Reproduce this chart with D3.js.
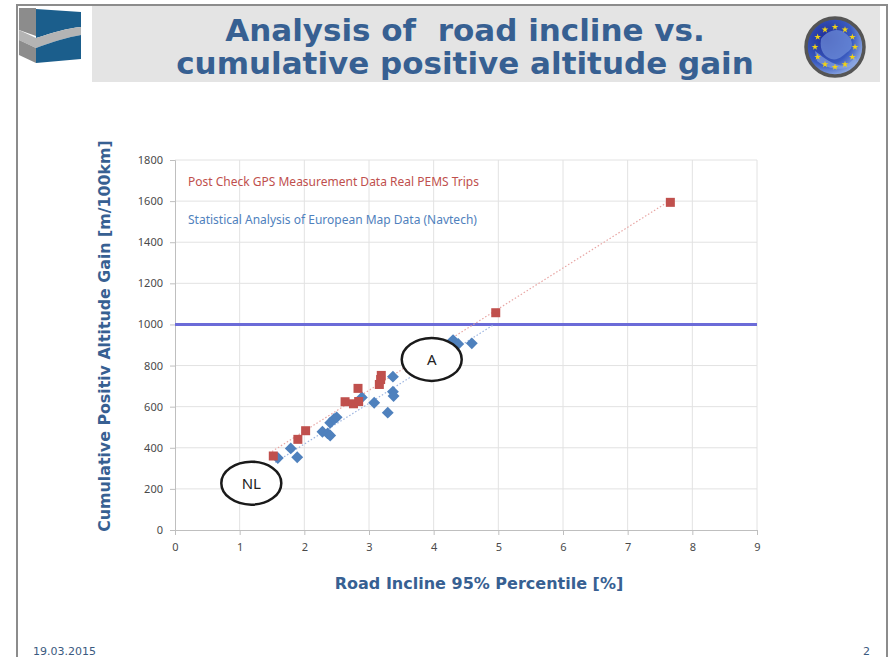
<!DOCTYPE html>
<html>
<head>
<meta charset="utf-8">
<script src="https://cdn.jsdelivr.net/npm/d3@7"></script>
<style>
  body { margin: 0; background: #fff; }
  svg { display: block; }
</style>
</head>
<body>
<div id="chart"></div>
<script>
const width = 890;
const height = 657;

// PEMS trips (red squares)
const pemsX = [1.52, 1.90, 2.02, 2.63, 2.76, 2.84, 2.83, 3.16, 3.18, 3.19, 4.96, 7.66];
const pemsY = [360, 441, 483, 624, 614, 625, 689, 708, 732, 752, 1057, 1594];

// Navtech map data (blue diamonds)
const navX = [1.59, 1.79, 1.89, 2.28, 2.36, 2.40, 2.40, 2.46, 2.50, 2.89, 3.08, 3.29, 3.37, 3.37, 3.38, 4.30, 4.38, 4.59];
const navY = [350, 397, 354, 478, 470, 460, 522, 540, 548, 645, 619, 571, 746, 673, 652, 924, 905, 908];

// trendline spans (x range)
const pemsTrendRange = [1.50, 7.66];
const navTrendRange = [1.55, 4.92];

const limitValue = 1000;

const xTicks = [0, 1, 2, 3, 4, 5, 6, 7, 8, 9];
const yTicks = [0, 200, 400, 600, 800, 1000, 1200, 1400, 1600, 1800];

const legendLabels = [
    "Post Check GPS Measurement Data Real PEMS Trips",
    "Statistical Analysis of European Map Data (Navtech)"
];

const annotationLabels = ["A", "NL"];
const annotationX = [3.97, 1.18];
const annotationY = [830, 228];

const titleLines = ["Analysis of  road incline vs.", "cumulative positive altitude gain"];
const xTitle = "Road Incline 95% Percentile [%]";
const yTitle = "Cumulative Positiv Altitude Gain [m/100km]";
const footerDate = "19.03.2015";
const pageNo = "2";

const red = "#C0504D";
const blue = "#4F81BD";
const titleBlue = "#376092";

const svg = d3.select("#chart").append("svg")
    .attr("width", width)
    .attr("height", height);

// slide frame + banner
svg.append("rect")
    .attr("x", 92).attr("y", 6)
    .attr("width", 788).attr("height", 76)
    .attr("fill", "#E4E4E4");

svg.append("path")
    .attr("d", "M17,657 L17,5 L887,5 L887,657")
    .attr("fill", "none")
    .attr("stroke", "#8C8C8C")
    .attr("stroke-width", 2);

// left logo (approximate)
const logo = svg.append("g");
logo.append("path").attr("d", "M19,8 L36,8 L36,36 L19,30 Z").attr("fill", "#8C8C8C");
logo.append("path").attr("d", "M36,9 L81,12 L81,27 C68,28 52,33 36,38 Z").attr("fill", "#1B5E8C");
logo.append("path").attr("d", "M19,30 L36,38 C52,33 68,28 81,27 L81,35 C68,37 52,42 36,48 L19,40 Z").attr("fill", "#B4B4B4");
logo.append("path").attr("d", "M19,40 L36,48 L36,63 L19,55 Z").attr("fill", "#8C8C8C");
logo.append("path").attr("d", "M36,48 C52,42 68,37 81,35 L81,59 L36,63 Z").attr("fill", "#1B5E8C");

// EU logo (approximate)
const defs = svg.append("defs");
const grad = defs.append("radialGradient").attr("id", "eugrad")
    .attr("cx", "35%").attr("cy", "35%").attr("r", "75%");
grad.append("stop").attr("offset", "0%").attr("stop-color", "#1E2C96");
grad.append("stop").attr("offset", "60%").attr("stop-color", "#3A5BC0");
grad.append("stop").attr("offset", "100%").attr("stop-color", "#A9C2EC");

const eu = svg.append("g").attr("transform", "translate(835,47)");
eu.append("circle").attr("r", 29).attr("fill", "url(#eugrad)")
    .attr("stroke", "#555").attr("stroke-width", 3.5);
eu.append("path")
    .attr("d", "M-14,-8 C-8,-16 2,-20 10,-14 C16,-10 20,-2 14,4 C8,8 4,14 -4,12 C-10,10 -16,4 -14,-8 Z")
    .attr("fill", "#7090DA").attr("opacity", 0.7);
eu.append("path")
    .attr("d", "M-20,4 C-14,8 -6,16 4,18 C10,20 16,16 20,10 L22,16 C12,24 -6,24 -18,14 Z")
    .attr("fill", "#8FAAE4").attr("opacity", 0.6);
const starPath = d3.symbol().type(d3.symbolStar).size(14);
d3.range(12).forEach(i => {
    const a = i * Math.PI / 6;
    eu.append("path")
        .attr("d", starPath())
        .attr("transform", `translate(${20 * Math.sin(a)},${-20 * Math.cos(a)})`)
        .attr("fill", "#F2D313");
});

// title (one text, two lines)
svg.append("text")
    .attr("text-anchor", "middle")
    .attr("font-family", "DejaVu Sans")
    .attr("font-weight", "bold")
    .attr("font-size", 31)
    .attr("fill", titleBlue)
    .style("white-space", "pre")
    .selectAll("tspan")
    .data(titleLines)
    .join("tspan")
        .attr("x", 465)
        .attr("y", (d, i) => 41 + i * 33)
        .text(d => d);

// chart
const x = d3.scaleLinear().domain([0, 9]).range([175, 757]);
const y = d3.scaleLinear().domain([0, 1800]).range([530, 160]);

const grid = svg.append("g")
    .attr("stroke", "#E2E2E2")
    .attr("stroke-width", 1);

grid.selectAll("line.v")
    .data(xTicks.slice(1))
    .join("line")
        .attr("class", "v")
        .attr("x1", d => x(d)).attr("x2", d => x(d))
        .attr("y1", y(1800)).attr("y2", y(0));

grid.selectAll("line.h")
    .data(yTicks.slice(1))
    .join("line")
        .attr("class", "h")
        .attr("x1", x(0)).attr("x2", x(9))
        .attr("y1", d => y(d)).attr("y2", d => y(d));

const xAxis = svg.append("g")
    .attr("transform", `translate(0,${y(0)})`)
    .call(d3.axisBottom(x).tickValues(xTicks).tickFormat(d3.format("d")).tickSize(5).tickPadding(8));

const yAxis = svg.append("g")
    .attr("transform", `translate(${x(0)},0)`)
    .call(d3.axisLeft(y).tickValues(yTicks).tickFormat(d3.format("d")).tickSize(5).tickPadding(7));

[xAxis, yAxis].forEach(g => {
    g.select(".domain").attr("stroke", "#BFBFBF");
    g.selectAll(".tick line").attr("stroke", "#BFBFBF");
    g.selectAll(".tick text")
        .attr("fill", "#4A4A4A")
        .attr("font-family", "Noto Sans")
        .attr("font-size", 11);
});

// limit line at 1000
svg.append("line")
    .attr("x1", x(0)).attr("x2", x(9))
    .attr("y1", y(limitValue)).attr("y2", y(limitValue))
    .attr("stroke", "#6B6BD8")
    .attr("stroke-width", 3);

// linear fit for trendlines
function linearFit(xs, ys) {
    const n = xs.length;
    const mx = d3.mean(xs), my = d3.mean(ys);
    let sxy = 0, sxx = 0;
    for (let i = 0; i < n; i++) {
        sxy += (xs[i] - mx) * (ys[i] - my);
        sxx += (xs[i] - mx) * (xs[i] - mx);
    }
    const b = sxy / sxx;
    return v => my + b * (v - mx);
}

const pemsFit = linearFit(pemsX, pemsY);
const navFit = linearFit(navX, navY);

svg.append("line")
    .attr("x1", x(navTrendRange[0])).attr("y1", y(navFit(navTrendRange[0])))
    .attr("x2", x(navTrendRange[1])).attr("y2", y(navFit(navTrendRange[1])))
    .attr("stroke", "#9DB5E0")
    .attr("stroke-width", 1.2)
    .attr("stroke-dasharray", "1.5,2");

svg.append("line")
    .attr("x1", x(pemsTrendRange[0])).attr("y1", y(pemsFit(pemsTrendRange[0])))
    .attr("x2", x(pemsTrendRange[1])).attr("y2", y(pemsFit(pemsTrendRange[1])))
    .attr("stroke", "#E8A6A4")
    .attr("stroke-width", 1.2)
    .attr("stroke-dasharray", "1.5,2");

// markers
svg.append("g")
    .selectAll("rect")
    .data(d3.zip(navX, navY))
    .join("rect")
        .attr("x", -4.2).attr("y", -4.2)
        .attr("width", 8.4).attr("height", 8.4)
        .attr("transform", d => `translate(${x(d[0])},${y(d[1])}) rotate(45)`)
        .attr("fill", blue);

svg.append("g")
    .selectAll("rect")
    .data(d3.zip(pemsX, pemsY))
    .join("rect")
        .attr("x", d => x(d[0]) - 4.5)
        .attr("y", d => y(d[1]) - 4.5)
        .attr("width", 9).attr("height", 9)
        .attr("fill", red);

// legend-style labels inside plot
svg.append("g")
    .selectAll("text")
    .data(legendLabels)
    .join("text")
        .attr("x", 188)
        .attr("y", (d, i) => 186 + i * 38)
        .attr("font-family", "Noto Sans")
        .attr("font-size", 12)
        .attr("fill", (d, i) => i === 0 ? red : blue)
        .text(d => d);

// annotations
const ann = svg.append("g")
    .selectAll("g")
    .data(annotationLabels)
    .join("g")
        .attr("transform", (d, i) => `translate(${x(annotationX[i])},${y(annotationY[i])})`);

ann.append("ellipse")
    .attr("rx", 30).attr("ry", 21.5)
    .attr("fill", "#fff")
    .attr("stroke", "#1A1A1A")
    .attr("stroke-width", 2.5);

ann.append("text")
    .attr("text-anchor", "middle")
    .attr("dy", "0.36em")
    .attr("font-family", "Noto Sans")
    .attr("font-size", 15)
    .attr("fill", "#222")
    .text(d => d);

// axis titles
svg.append("text")
    .attr("x", 479)
    .attr("y", 589)
    .attr("text-anchor", "middle")
    .attr("font-family", "DejaVu Sans")
    .attr("font-weight", "bold")
    .attr("font-size", 16)
    .attr("fill", titleBlue)
    .text(xTitle);

svg.append("text")
    .attr("transform", "translate(110,336) rotate(-90)")
    .attr("text-anchor", "middle")
    .attr("font-family", "DejaVu Sans")
    .attr("font-weight", "bold")
    .attr("font-size", 15.8)
    .attr("fill", titleBlue)
    .text(yTitle);

// footer
svg.append("text")
    .attr("x", 33).attr("y", 655)
    .attr("font-family", "DejaVu Sans")
    .attr("font-size", 11)
    .attr("fill", "#3B5A80")
    .text(footerDate);

svg.append("text")
    .attr("x", 870).attr("y", 655)
    .attr("text-anchor", "end")
    .attr("font-family", "DejaVu Sans")
    .attr("font-size", 11)
    .attr("fill", "#3B5A80")
    .text(pageNo);
</script>
</body>
</html>
